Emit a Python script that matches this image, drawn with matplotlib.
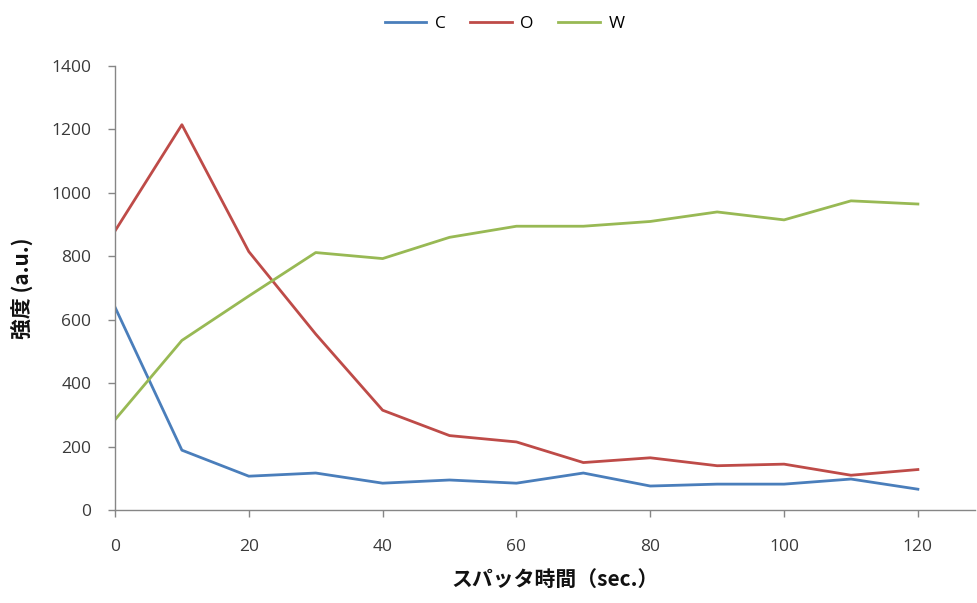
import numpy as np
import matplotlib.pyplot as plt

plt.rcParams['font.family'] = ['Open Sans', 'Noto Sans CJK JP', 'DejaVu Sans']

# スパッタ時間 (sec.)
time_sec = [0, 10, 20, 30, 40, 50, 60, 70, 80, 90, 100, 110, 120]

# 各元素の強度 (a.u.)
c_vals = [640, 189, 107, 117, 85, 95, 85, 117, 76, 82, 82, 98, 66]
o_vals = [880, 1215, 815, 555, 315, 235, 215, 150, 165, 140, 145, 110, 128]
w_vals = [285, 535, 675, 812, 793, 860, 895, 895, 910, 940, 915, 975, 965]

series_names = ['C', 'O', 'W']
series_colors = ['#4A7EBB', '#BE4B48', '#98B954']

fig = plt.figure(figsize=(9.77, 6.03), dpi=100)
ax = fig.add_axes([0.1177, 0.154, 0.880, 0.7365])

for vals, name, col in zip([c_vals, o_vals, w_vals], series_names, series_colors):
    ax.plot(time_sec, vals, color=col, lw=2.0, label=name, solid_joinstyle='round')

ax.set_xlim(0, 128.5)
ax.set_ylim(0, 1400)
ax.set_xticks(np.arange(0, 121, 20))
ax.set_yticks(np.arange(0, 1401, 200))

for side in ['top', 'right']:
    ax.spines[side].set_visible(False)
for side in ['left', 'bottom']:
    ax.spines[side].set_color('#868686')
    ax.spines[side].set_linewidth(1.0)

ax.tick_params(axis='both', colors='#868686', labelcolor='#3a3a3a',
               labelsize=12.5, length=5, width=1.0)
ax.tick_params(axis='x', pad=16)
ax.tick_params(axis='y', pad=12)

ax.set_xlabel('スパッタ時間（sec.）', family=['Noto Sans CJK JP'],
              fontweight='bold', fontsize=15, color='#111111')
ax.set_ylabel('強度 (a.u.)', family=['Noto Sans CJK JP'],
              fontweight='bold', fontsize=15, color='#111111')
ax.xaxis.set_label_coords(0.5116, -0.155)
ax.xaxis.label.set_va('center')
ax.yaxis.set_label_coords(-0.108, 0.5)
ax.yaxis.label.set_va('center')

ax.legend(loc='center', bbox_to_anchor=(0.453, 1.094), ncol=3,
          frameon=False, fontsize=12.5, handlelength=2.4, columnspacing=1.4,
          handletextpad=0.5)

fig.savefig('out.png', dpi=100)
